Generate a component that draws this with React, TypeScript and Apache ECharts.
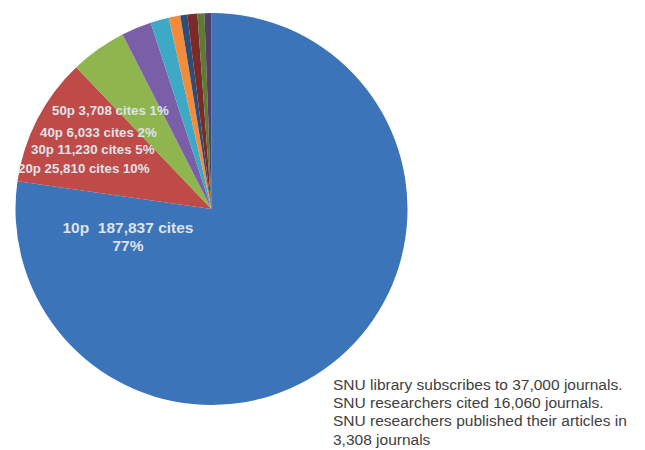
import React, { useEffect, useRef } from "react";
import * as echarts from "echarts";

const groups = ["10p", "20p", "30p", "40p", "50p", "60p", "70p", "80p", "90p", "100p"];
const cites = [187837, 25810, 11230, 6033, 3708, 2300, 1400, 2000, 1400, 1400];
const shownPct = ["77%", "10%", "5%", "2%", "1%"];
const colors = ["#3B74B8", "#BE4B48", "#8EB54E", "#7A5FA8", "#3EA9C6", "#F28C3A", "#2E4E78", "#7A2A28", "#5F7A32", "#4F3E6E"];
const notes = [
  "SNU library subscribes to 37,000 journals.",
  "SNU researchers cited 16,060 journals.",
  "SNU researchers published their articles in",
  "3,308 journals",
];

const fmt = (n: number) => n.toLocaleString("en-US");

export default function App() {
  const ref = useRef<HTMLDivElement>(null);
  useEffect(() => {
    document.body.style.margin = "0";
    if (!ref.current) return;
    const chart = echarts.init(ref.current, undefined, { renderer: "svg" });
    const labelColor = "#dfe2e8";
    const smallPos = [
      { x: 18, y: 168 },
      { x: 31, y: 149 },
      { x: 40, y: 132 },
      { x: 52, y: 110 },
    ];
    const graphics: any[] = [
      {
        type: "text",
        z: 100,
        x: 128,
        y: 236,
        style: {
          text: `${groups[0]}  ${fmt(cites[0])} cites\n${shownPct[0]}`,
          fill: labelColor,
          font: "bold 15.5px 'Liberation Sans', Arial, sans-serif",
          textAlign: "center",
          textVerticalAlign: "middle",
          lineHeight: 18,
        },
      },
      ...smallPos.map((p, i) => ({
        type: "text",
        z: 100,
        x: p.x,
        y: p.y,
        style: {
          text: `${groups[i + 1]} ${fmt(cites[i + 1])} cites ${shownPct[i + 1]}`,
          fill: labelColor,
          font: "bold 13.3px 'Liberation Sans', Arial, sans-serif",
          textAlign: "left",
          textVerticalAlign: "middle",
        },
      })),
      {
        type: "text",
        z: 100,
        x: 333,
        y: 375,
        style: {
          text: notes.join("\n"),
          fill: "#404040",
          font: "15.5px 'Liberation Sans', Arial, sans-serif",
          textAlign: "left",
          textVerticalAlign: "top",
          lineHeight: 18.3,
        },
      },
    ];
    chart.setOption({
      animation: false,
      color: colors,
      series: [
        {
          type: "pie",
          z: 1,
          center: [211.5, 209],
          radius: [0, 196],
          startAngle: 90,
          clockwise: true,
          label: { show: false },
          labelLine: { show: false },
          emphasis: { disabled: true },
          itemStyle: { borderWidth: 0 },
          data: groups.map((g, i) => ({ name: g, value: cites[i] })),
        },
      ],
      graphic: graphics,
    });
    return () => chart.dispose();
  }, []);
  return <div ref={ref} style={{ width: 645, height: 450 }} />;
}
